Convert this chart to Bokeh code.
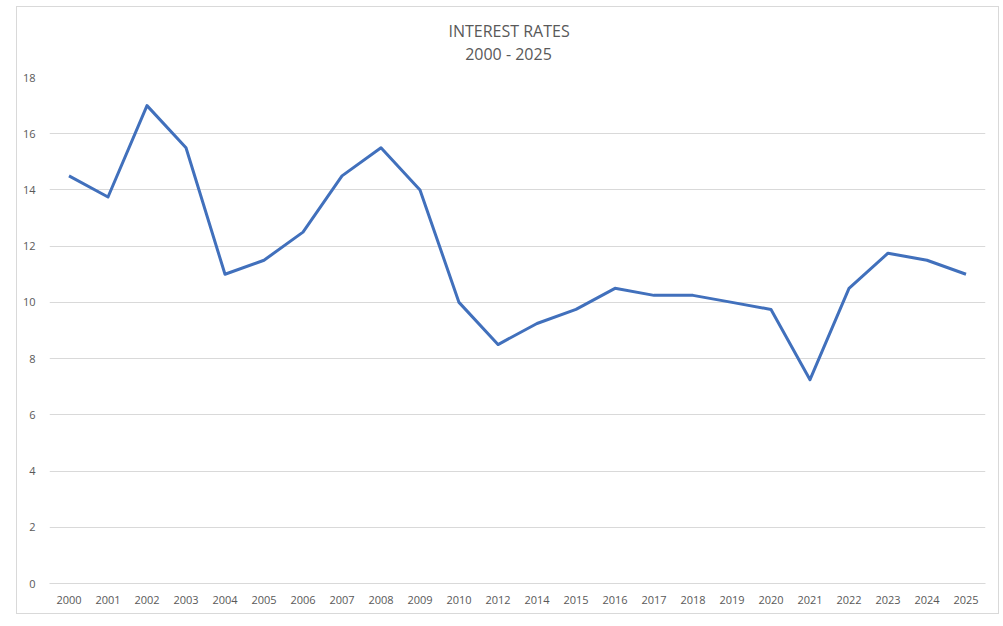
from bokeh.plotting import figure
from bokeh.models import FactorRange, Range1d, FixedTicker, ColumnDataSource
from bokeh.embed import file_html
from bokeh.resources import INLINE

years = ["2000", "2001", "2002", "2003", "2004", "2005", "2006", "2007", "2008", "2009",
         "2010", "2012", "2014", "2015", "2016", "2017", "2018", "2019", "2020", "2021",
         "2022", "2023", "2024", "2025"]
rates = [14.5, 13.75, 17, 15.5, 11, 11.5, 12.5, 14.5, 15.5, 14,
         10, 8.5, 9.25, 9.75, 10.5, 10.25, 10.25, 10, 9.75, 7.25,
         10.5, 11.75, 11.5, 11]
y_ticks = [0, 2, 4, 6, 8, 10, 12, 14, 16, 18]
title_lines = ["INTEREST RATES", "2000 - 2025"]

FONT = "Open Sans"
GREY = "#595959"

NBSP = "\u00a0"
# second line nudged with non-breaking spaces so that both lines appear centred
title_text = title_lines[0] + "\n" + NBSP * 4 + title_lines[1]

p = figure(
    x_range=FactorRange(factors=years),
    y_range=Range1d(0, 18),
    width=983, height=608,
    output_backend="svg", toolbar_location=None,
    title=title_text,
    min_border_left=32, min_border_right=15, min_border_top=70, min_border_bottom=32,
)
p.styles = {"border": "1px solid #D9D9D9", "margin-left": "16px", "margin-top": "6px"}
p.outline_line_color = None
p.background_fill_color = "white"
p.border_fill_color = "white"

p.title.align = "left"
p.title.offset = 399
p.title.vertical_align = "top"
p.title.text_font = FONT
p.title.text_font_size = "16px"
p.title.text_font_style = "normal"
p.title.text_color = GREY
p.title.text_line_height = 1.09
p.title.standoff = 20

src = ColumnDataSource(dict(year=years, rate=rates))
p.line("year", "rate", source=src, line_color="#4170BC", line_width=3, line_join="round")

p.xgrid.grid_line_color = None
p.ygrid.grid_line_color = "#D9D9D9"
p.ygrid.grid_line_width = 1

p.yaxis.ticker = FixedTicker(ticks=y_ticks)
p.yaxis.axis_line_color = None
p.yaxis.major_tick_line_color = None
p.yaxis.minor_tick_line_color = None
p.yaxis.major_label_standoff = 8
p.yaxis.major_label_text_font = FONT
p.yaxis.major_label_text_font_size = "11px"
p.yaxis.major_label_text_color = GREY

p.xaxis.axis_line_color = "#D9D9D9"
p.xaxis.major_tick_line_color = None
p.xaxis.minor_tick_line_color = None
p.xaxis.major_label_standoff = 6
p.xaxis.major_label_text_font = FONT
p.xaxis.major_label_text_font_size = "11px"
p.xaxis.major_label_text_color = GREY

open("out.html", "w").write(file_html(p, INLINE))
